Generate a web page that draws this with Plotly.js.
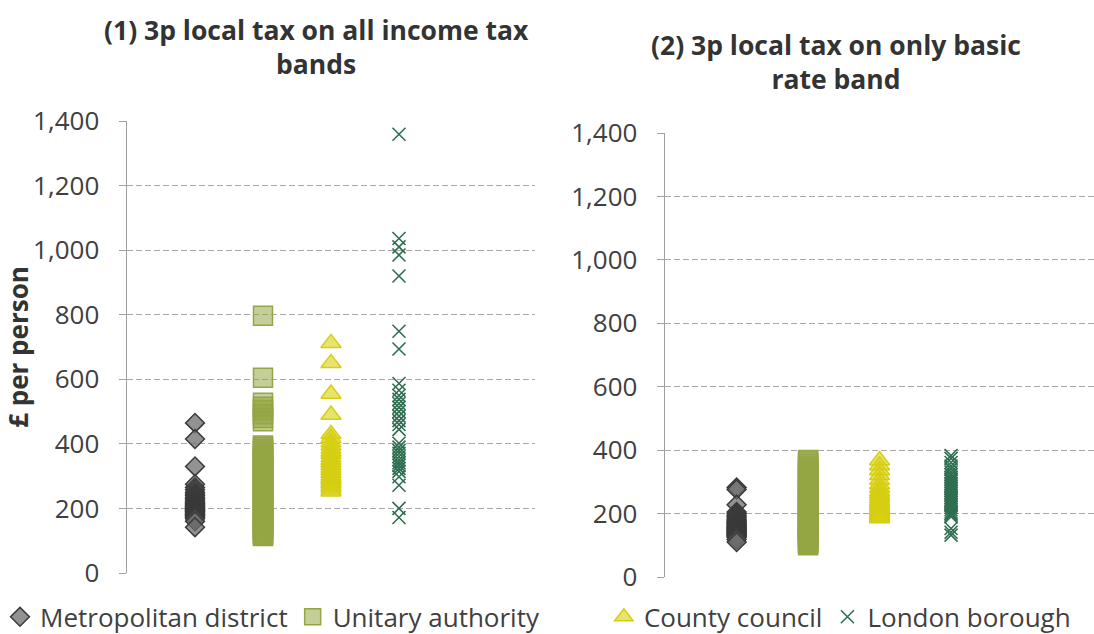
<!DOCTYPE html>
<html>
<head>
<meta charset="utf-8">
<script src="https://cdn.plot.ly/plotly-3.0.1.min.js"></script>
<style>html,body{margin:0;padding:0;background:#fff;}#chart{width:1094px;height:634px;}</style>
</head>
<body>
<div id="chart"></div>
<script>
// Category positions
const categoryNames = ["Metropolitan district", "Unitary authority", "County council", "London borough"];
const categoryX = [1, 2, 3, 4];

// Panel 1: 3p on all income tax bands (£ per person)
const metroAll = [465, 415, 330, 275, 265, 258, 250, 245, 240, 235, 230, 226, 222, 218, 215, 212, 210, 207, 205, 202, 200, 198, 196, 194, 192, 190, 188, 185, 182, 180, 178, 175, 172, 168, 160, 142];
const unitaryAll = [797, 605, 527, 515, 505, 492, 480, 470, 395, 390, 384, 378, 371, 363, 355, 347, 340, 333, 325, 318, 311, 302, 296, 288, 281, 273, 266, 258, 251, 243, 236, 228, 221, 213, 205, 198, 191, 183, 176, 168, 161, 153, 146, 139, 131, 126, 121, 118, 115];
const countyAll = [712, 650, 555, 490, 430, 418, 405, 395, 385, 376, 368, 358, 350, 342, 334, 326, 318, 310, 302, 295, 290, 284, 278, 271, 265, 258, 252];
const londonAll = [1359, 1036, 1010, 985, 920, 749, 694, 587, 566, 550, 538, 525, 513, 500, 486, 472, 460, 445, 402, 390, 380, 371, 360, 350, 341, 333, 324, 315, 298, 272, 200, 172];

// Panel 2: 3p on basic rate band only (£ per person)
const metroBasic = [282, 276, 228, 205, 200, 195, 190, 186, 182, 178, 175, 172, 170, 168, 165, 162, 160, 158, 156, 154, 152, 150, 148, 146, 144, 142, 140, 138, 136, 134, 132, 130, 128, 125, 118, 110];
const unitaryBasic = [369, 364, 357, 350, 343, 335, 327, 319, 311, 303, 297, 291, 284, 278, 272, 265, 259, 253, 247, 242, 236, 230, 224, 218, 212, 206, 201, 195, 190, 185, 180, 175, 170, 165, 160, 155, 150, 145, 140, 135, 130, 125, 121, 117, 112, 108, 104, 100];
const countyBasic = [368, 352, 336, 321, 306, 292, 281, 271, 263, 255, 248, 241, 235, 230, 225, 220, 215, 210, 206, 202, 199, 196, 193, 191, 189, 187, 185];
const londonBasic = [383, 374, 361, 350, 341, 331, 323, 315, 308, 301, 295, 290, 285, 279, 272, 265, 258, 251, 245, 240, 235, 230, 225, 219, 212, 205, 200, 195, 190, 153, 141, 132];

const yTicks = [0, 200, 400, 600, 800, 1000, 1200, 1400];

const styles = [
  {symbol: "diamond", size: 14.5, color: "rgba(110,110,110,0.75)", line: {color: "#3a3a3a", width: 1.5}},
  {symbol: "square", size: 19, color: "rgba(148,165,68,0.55)", line: {color: "#94a544", width: 1.5}},
  {symbol: "triangle-up", size: 17.5, color: "rgba(216,208,16,0.6)", line: {color: "#d6ce12", width: 1.5}},
  {symbol: "x-thin", size: 13, color: "#2f6e50", line: {color: "#2f6e50", width: 1.6}}
];

function rep(x, arr) { return arr.map(() => x); }

const panels = [
  {data: [metroAll, unitaryAll, countyAll, londonAll], xa: "x", ya: "y"},
  {data: [metroBasic, unitaryBasic, countyBasic, londonBasic], xa: "x2", ya: "y2"}
];

const traces = [];
panels.forEach((p, pi) => {
  p.data.forEach((vals, ci) => {
    traces.push({
      type: "scatter", mode: "markers",
      x: rep(categoryX[ci], vals), y: vals,
      xaxis: p.xa, yaxis: p.ya,
      name: categoryNames[ci],
      marker: styles[ci],
      showlegend: pi === 0,
      legend: ci < 2 ? "legend" : "legend2",
      hoverinfo: "y"
    });
  });
});

const fam = "Open Sans, Noto Sans, sans-serif";
const font = {family: fam, color: "#333333"};

const yBase = {
  range: [0, 1400], tickvals: yTicks, tickformat: ",d",
  showgrid: true, gridcolor: "#a8a8a8", griddash: "6px,3px", gridwidth: 1,
  showline: true, linecolor: "#a0a0a0", linewidth: 1.5,
  ticks: "outside", ticklen: 7, tickcolor: "#a0a0a0",
  ticklabelstandoff: 14,
  tickfont: {size: 26, color: "#404040", family: fam},
  zeroline: false, fixedrange: true, automargin: false
};
const xBase = {
  range: [0, 6], showgrid: false, showticklabels: false, zeroline: false,
  showline: false, ticks: "", fixedrange: true, automargin: false
};

const legendFont = {size: 26, color: "#404040", family: fam};

const layout = {
  width: 1094, height: 634,
  margin: {l: 0, r: 0, t: 0, b: 0, autoexpand: false},
  paper_bgcolor: "#ffffff", plot_bgcolor: "#ffffff",
  font: font,
  xaxis: Object.assign({}, xBase, {domain: [0.1161, 0.489], anchor: "y"}),
  yaxis: Object.assign({}, yBase, {domain: [0.0962, 0.8091], anchor: "x",
    title: {text: "<b>£ per person</b>", font: {size: 26, color: "#333333", family: fam}, standoff: 8}}),
  xaxis2: Object.assign({}, xBase, {domain: [0.608, 1.0], anchor: "y2"}),
  yaxis2: Object.assign({}, yBase, {domain: [0.0899, 0.7902], anchor: "x2"}),
  legend: {orientation: "h", x: 0.0, xanchor: "left", y: 0.027, yanchor: "middle",
    font: legendFont, itemwidth: 30, bgcolor: "rgba(0,0,0,0)"},
  legend2: {orientation: "h", x: 0.552, xanchor: "left", y: 0.027, yanchor: "middle",
    font: legendFont, itemwidth: 30, bgcolor: "rgba(0,0,0,0)"},
  annotations: [
    {text: "<b>(1) 3p local tax on all income tax<br>bands</b>", xref: "paper", yref: "paper",
     x: 0.2895, y: 0.984, xanchor: "center", yanchor: "top", showarrow: false,
     font: {size: 26.5, color: "#333333", family: fam}, align: "center"},
    {text: "<b>(2) 3p local tax on only basic<br>rate band</b>", xref: "paper", yref: "paper",
     x: 0.7645, y: 0.961, xanchor: "center", yanchor: "top", showarrow: false,
     font: {size: 26.5, color: "#333333", family: fam}, align: "center"}
  ]
};

Plotly.newPlot("chart", traces, layout, {displayModeBar: false, staticPlot: true});
</script>
</body>
</html>
